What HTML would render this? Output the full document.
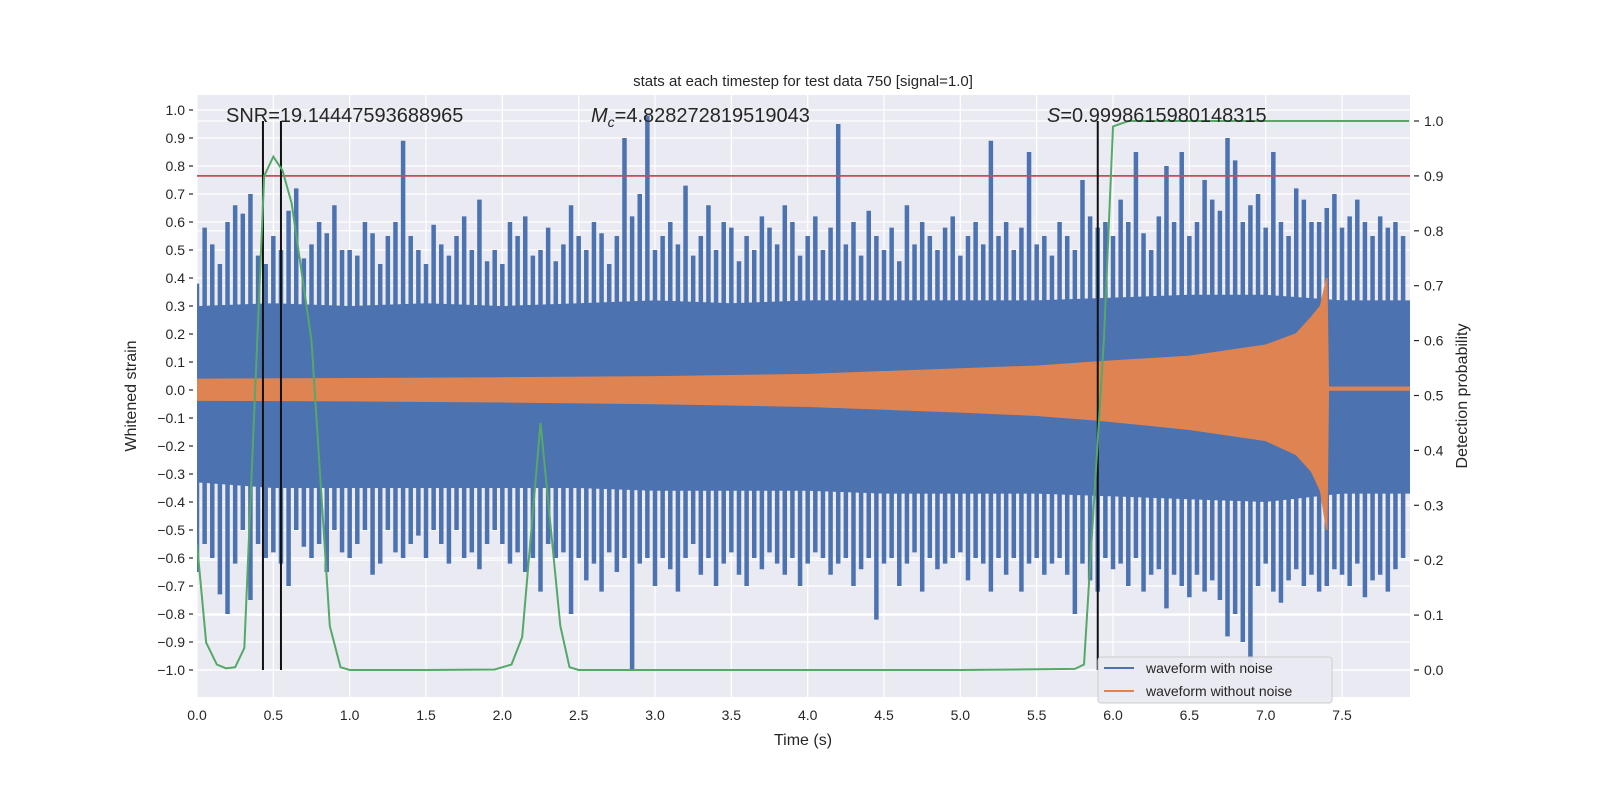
<!DOCTYPE html>
<html><head><meta charset="utf-8"><style>
body{margin:0;background:#fff;}
svg{display:block;font-family:"Liberation Sans","DejaVu Sans",sans-serif;}
</style></head><body>
<svg id="chart" width="1600" height="800" viewBox="0 0 1600 800">
<rect x="0" y="0" width="1600" height="800" fill="#fff"/>
<rect x="197" y="95" width="1213" height="602" fill="#eaeaf2"/>
<g id="grid"></g>
<defs><clipPath id="clip"><rect x="197" y="95" width="1213" height="602"/></clipPath></defs>
<g id="marks" clip-path="url(#clip)"></g>
<g id="axes"></g>
<text x="803" y="86" font-size="15" text-anchor="middle" fill="#262626">stats at each timestep for test data 750 [signal=1.0]</text>
<text x="226" y="122" font-size="20" fill="#262626">SNR=19.14447593688965</text>
<text x="591" y="122" font-size="20" fill="#262626"><tspan font-style="italic">M</tspan><tspan font-style="italic" font-size="14" dy="5">c</tspan><tspan dy="-5">=4.828272819519043</tspan></text>
<text x="1047" y="122" font-size="20" fill="#262626"><tspan font-style="italic">S</tspan>=0.9998615980148315</text>
<text x="803" y="745" font-size="16" text-anchor="middle" fill="#262626">Time (s)</text>
<text transform="translate(136,396) rotate(-90)" font-size="16" text-anchor="middle" fill="#262626">Whitened strain</text>
<text transform="translate(1467,396) rotate(-90)" font-size="16" text-anchor="middle" fill="#262626">Detection probability</text>
<g>
<rect x="1098" y="657" width="234" height="46" rx="3" fill="#eaeaf2" stroke="#cccccc" opacity="0.95"/>
<line x1="1104" y1="668" x2="1134" y2="668" stroke="#4c72b0" stroke-width="2"/>
<text x="1146" y="673" font-size="14" fill="#262626">waveform with noise</text>
<line x1="1104" y1="691" x2="1134" y2="691" stroke="#dd8452" stroke-width="2"/>
<text x="1146" y="696" font-size="14" fill="#262626">waveform without noise</text>
</g>
</svg>
<script>
const spikeUpper=[0.38,0.58,0.52,0.45,0.6,0.66,0.63,0.7,0.48,0.45,0.55,0.5,0.64,0.72,0.47,0.52,0.6,0.56,0.66,0.5,
0.5,0.48,0.6,0.56,0.45,0.55,0.6,0.89,0.55,0.5,0.45,0.59,0.52,0.48,0.55,0.62,0.5,0.68,0.46,0.5,
0.45,0.6,0.55,0.62,0.48,0.5,0.58,0.46,0.52,0.66,0.55,0.5,0.6,0.56,0.45,0.55,0.9,0.62,0.7,0.98,
0.5,0.55,0.6,0.52,0.73,0.48,0.55,0.66,0.5,0.6,0.58,0.46,0.55,0.5,0.62,0.58,0.52,0.66,0.6,0.48,
0.55,0.62,0.5,0.58,0.95,0.52,0.6,0.48,0.64,0.55,0.5,0.58,0.46,0.66,0.52,0.6,0.55,0.5,0.58,0.62,
0.48,0.55,0.6,0.52,0.89,0.55,0.6,0.5,0.58,0.85,0.52,0.55,0.48,0.6,0.55,0.5,0.75,0.62,0.58,0.6,
0.55,0.68,0.6,0.85,0.56,0.5,0.62,0.8,0.6,0.85,0.55,0.6,0.75,0.68,0.64,0.9,0.82,0.6,0.66,0.7,
0.58,0.85,0.6,0.55,0.72,0.68,0.6,0.6,0.65,0.7,0.58,0.62,0.68,0.6,0.55,0.62,0.58,0.6,0.55];
const spikeLower=[-0.65,-0.55,-0.6,-0.73,-0.8,-0.62,-0.5,-0.75,-0.55,-0.6,-0.58,-0.62,-0.7,-0.5,-0.56,-0.6,-0.55,-0.65,-0.5,-0.58,
-0.6,-0.55,-0.5,-0.66,-0.62,-0.5,-0.58,-0.6,-0.55,-0.52,-0.6,-0.5,-0.55,-0.62,-0.5,-0.6,-0.58,-0.64,-0.55,-0.5,
-0.55,-0.62,-0.58,-0.65,-0.6,-0.72,-0.55,-0.6,-0.58,-0.8,-0.6,-0.68,-0.62,-0.72,-0.58,-0.65,-0.6,-1.0,-0.62,-0.6,
-0.7,-0.6,-0.64,-0.72,-0.6,-0.55,-0.66,-0.6,-0.7,-0.62,-0.58,-0.66,-0.7,-0.6,-0.64,-0.58,-0.62,-0.66,-0.6,-0.7,
-0.62,-0.58,-0.6,-0.66,-0.62,-0.6,-0.7,-0.64,-0.6,-0.82,-0.62,-0.6,-0.7,-0.62,-0.58,-0.72,-0.6,-0.64,-0.62,-0.6,
-0.58,-0.68,-0.6,-0.62,-0.72,-0.6,-0.66,-0.6,-0.72,-0.62,-0.6,-0.66,-0.62,-0.6,-0.66,-0.8,-0.62,-0.68,-0.72,-0.6,
-0.64,-0.62,-0.7,-0.6,-0.72,-0.66,-0.64,-0.78,-0.66,-0.7,-0.74,-0.66,-0.72,-0.68,-0.75,-0.88,-0.8,-0.9,-0.99,-0.7,
-0.62,-0.72,-0.76,-0.68,-0.64,-0.7,-0.66,-0.72,-0.7,-0.64,-0.66,-0.7,-0.62,-0.74,-0.68,-0.66,-0.72,-0.64,-0.6];
const coreTimes=[0,0.5,1,1.5,2,2.5,3,3.5,4,4.5,5,5.5,6,6.5,7,7.5,7.95];
const coreUpper=[0.3,0.31,0.3,0.31,0.3,0.31,0.32,0.31,0.32,0.32,0.32,0.32,0.33,0.34,0.34,0.32,0.32];
const coreLower=[-0.33,-0.35,-0.35,-0.35,-0.35,-0.35,-0.36,-0.36,-0.36,-0.37,-0.37,-0.37,-0.38,-0.39,-0.4,-0.37,-0.37];
const cleanTimes=[0,1,2,3,4,4.5,5,5.5,5.9,6.5,7,7.2,7.3,7.36,7.4,7.41,7.95];
const cleanUpper=[0.038,0.04,0.043,0.047,0.055,0.065,0.075,0.085,0.1,0.12,0.16,0.2,0.26,0.3,0.4,0.01,0.01];
const cleanLower=[-0.036,-0.038,-0.042,-0.048,-0.058,-0.068,-0.078,-0.09,-0.107,-0.14,-0.18,-0.23,-0.29,-0.36,-0.5,0.0,0.0];
const probTimes=[0,0.06,0.13,0.19,0.25,0.31,0.44,0.5,0.56,0.62,0.75,0.87,0.94,1.0,1.5,1.95,2.06,2.13,2.25,2.38,2.44,2.5,3.0,4.0,5.0,5.75,5.81,5.94,6.0,6.1,7.94];
const probValues=[0.23,0.05,0.01,0.003,0.005,0.04,0.9,0.935,0.91,0.85,0.6,0.08,0.005,0.0,0.0,0.001,0.01,0.06,0.45,0.08,0.005,0.0,0.0,0.0,0.0,0.002,0.01,0.6,0.99,1.0,1.0];
const markerTimes=[0.432,0.55,5.9];
const threshold=0.9;
const leftTicks=[-1.0,-0.9,-0.8,-0.7,-0.6,-0.5,-0.4,-0.3,-0.2,-0.1,0.0,0.1,0.2,0.3,0.4,0.5,0.6,0.7,0.8,0.9,1.0];
const rightTicks=[0.0,0.1,0.2,0.3,0.4,0.5,0.6,0.7,0.8,0.9,1.0];
const xTicks=[0,0.5,1,1.5,2,2.5,3,3.5,4,4.5,5,5.5,6,6.5,7,7.5];

const X=t=>197+t*152.67;
const YL=v=>390-v*280;
const YR=p=>670-p*549;
const NS='http://www.w3.org/2000/svg';
function mk(tag,attrs,parent){const e=document.createElementNS(NS,tag);for(const k in attrs)e.setAttribute(k,attrs[k]);parent.appendChild(e);return e;}
const grid=document.getElementById('grid'),marks=document.getElementById('marks'),axes=document.getElementById('axes');

xTicks.forEach(t=>{const l=mk('line',{x1:X(t),x2:X(t),y1:95,y2:697,stroke:'#fff','stroke-width':1.2},grid);


const tx=mk('text',{x:X(t),y:720,'font-size':14,'text-anchor':'middle',fill:'#262626'},axes);tx.textContent=t.toFixed(1);

});
leftTicks.forEach(v=>{const l=mk('line',{x1:197,x2:1410,y1:YL(v),y2:YL(v),stroke:'#fff','stroke-width':1.2},grid);


mk('line',{x1:189,x2:193,y1:YL(v),y2:YL(v),stroke:'#262626','stroke-width':1.2},axes);
const tx=mk('text',{x:185,y:YL(v)+5,'font-size':14,'text-anchor':'end',fill:'#262626'},axes);tx.textContent=(v<0?'\u2212':'')+Math.abs(v).toFixed(1);

});
rightTicks.forEach(p=>{const l=mk('line',{x1:197,x2:1410,y1:YR(p),y2:YR(p),stroke:'#fff','stroke-width':1.2},grid);


mk('line',{x1:1414,x2:1419,y1:YR(p),y2:YR(p),stroke:'#262626','stroke-width':1.2},axes);
const tx=mk('text',{x:1424,y:YR(p)+5,'font-size':14,fill:'#262626'},axes);tx.textContent=p.toFixed(1);

});

let d='M'+coreTimes.map((t,i)=>X(t)+','+YL(coreUpper[i])).join('L');
for(let i=coreTimes.length-1;i>=0;i--)d+='L'+X(coreTimes[i])+','+YL(coreLower[i]);
const core=mk('path',{d:d+'Z',fill:'#4c72b0'},marks);


spikeUpper.forEach((u,i)=>{const t=i*0.05;
const s=mk('line',{x1:X(t),x2:X(t),y1:YL(u),y2:YL(spikeLower[i]),stroke:'#4c72b0','stroke-width':4.5},marks);

});
d='M'+cleanTimes.map((t,i)=>X(t)+','+YL(cleanUpper[i])).join('L');
for(let i=cleanTimes.length-1;i>=0;i--)d+='L'+X(cleanTimes[i])+','+YL(cleanLower[i]);
const clean=mk('path',{d:d+'Z',fill:'#dd8452',stroke:'#dd8452','stroke-width':1.5},marks);


const th=mk('line',{x1:197,x2:1410,y1:YR(threshold),y2:YR(threshold),stroke:'#c44e52','stroke-width':1.8},marks);


markerTimes.forEach(t=>{const m=mk('line',{x1:X(t),x2:X(t),y1:YR(1),y2:YR(0),stroke:'#111','stroke-width':2},marks);

});
const g=mk('polyline',{points:probTimes.map((t,i)=>X(t)+','+YR(probValues[i])).join(' '),fill:'none',stroke:'#55a868','stroke-width':2},marks);


</script>
</body></html>
